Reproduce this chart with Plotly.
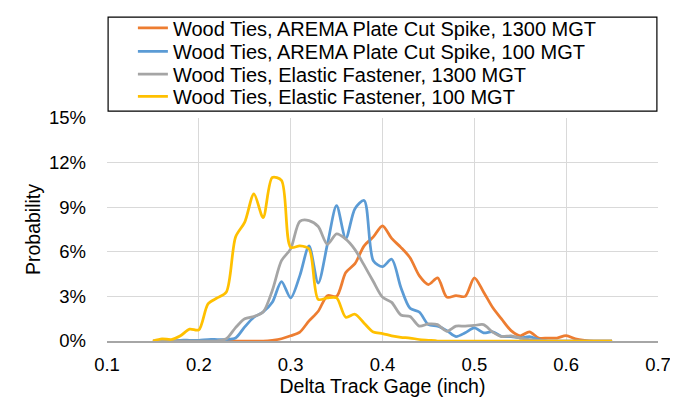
import plotly.graph_objects as go

gage = [0.15, 0.16, 0.17, 0.18, 0.19, 0.20, 0.21, 0.22, 0.23, 0.24,
        0.25, 0.26, 0.27, 0.28, 0.29, 0.30, 0.31, 0.32, 0.33, 0.34,
        0.35, 0.36, 0.37, 0.38, 0.39, 0.40, 0.41, 0.42, 0.43, 0.44,
        0.45, 0.46, 0.47, 0.48, 0.49, 0.50, 0.51, 0.52, 0.53, 0.54,
        0.55, 0.56, 0.57, 0.58, 0.59, 0.60, 0.61, 0.62, 0.63, 0.64, 0.65]

# probabilities in percent
arema_1300 = [0, 0, 0, 0, 0, 0, 0, 0, 0, 0,
              0, 0, 0, 0.05, 0.15, 0.35, 0.6, 1.35, 2.0, 3.05,
              3.0, 4.6, 5.2, 6.4, 7.0, 7.75, 6.9, 6.3, 5.6, 4.4,
              3.8, 4.25, 2.95, 3.05, 3.0, 4.25, 3.3, 2.25, 1.45, 0.7,
              0.35, 0.62, 0.2, 0.2, 0.2, 0.36, 0.15, 0.05, 0, 0, 0]

arema_100 = [0, 0, 0, 0.05, 0.05, 0.05, 0.1, 0.1, 0.1, 0.2,
             0.95, 1.6, 1.95, 2.6, 4.0, 2.9, 4.4, 6.4, 3.9, 6.5,
             9.1, 6.9, 8.9, 9.45, 5.4, 5.0, 5.5, 3.6, 2.2, 1.95,
             1.1, 1.0, 0.7, 0.3, 0.55, 0.88, 0.55, 0.62, 0.3, 0.3,
             0.2, 0.3, 0.1, 0, 0, 0, 0, 0, 0, 0, 0]

elastic_1300 = [0, 0, 0, 0, 0, 0, 0, 0, 0.15, 0.9,
                1.5, 1.65, 1.95, 3.4, 5.4, 6.2, 8.05, 8.1, 7.7, 6.5,
                7.2, 6.85, 6.15, 5.1, 4.0, 2.95, 2.6, 1.75, 1.65, 1.0,
                1.15, 1.1, 0.65, 1.0, 1.0, 1.05, 1.1, 0.6, 0.3, 0.35,
                0.2, 0.1, 0.05, 0, 0, 0, 0, 0, 0, 0, 0]

elastic_100 = [0, 0.15, 0.1, 0.35, 0.8, 0.75, 2.5, 2.9, 3.3, 7.0,
               8.0, 9.9, 8.3, 11.0, 10.8, 6.3, 6.4, 6.2, 2.8, 2.9,
               2.9, 1.6, 1.8, 1.2, 0.6, 0.5, 0.35, 0.25, 0.2, 0.1,
               0.05, 0, 0, 0, 0, 0, 0, 0, 0, 0,
               0, 0, 0, 0, 0, 0, 0, 0, 0, 0, 0]

series_names = ["Wood Ties, AREMA Plate Cut Spike, 1300 MGT",
                "Wood Ties, AREMA Plate Cut Spike, 100 MGT",
                "Wood Ties, Elastic Fastener, 1300 MGT",
                "Wood Ties, Elastic Fastener, 100 MGT"]
series_values = [arema_1300, arema_100, elastic_1300, elastic_100]
colors = ["#ED7D31", "#5B9BD5", "#A5A5A5", "#FFC000"]

y_ticks = [0, 0.03, 0.06, 0.09, 0.12, 0.15]
x_ticks = [0.1, 0.2, 0.3, 0.4, 0.5, 0.6, 0.7]

FONT = "Liberation Sans, Arial, sans-serif"
LEG_FONT = dict(family=FONT, size=20, color="#000000")

fig = go.Figure()
legend_ids = ["legend", "legend2", "legend3", "legend4"]
for name, vals, col, lid in zip(series_names, series_values, colors, legend_ids):
    fig.add_trace(go.Scatter(
        x=gage, y=[v / 100 for v in vals], name=name, mode="lines",
        line=dict(color=col, width=2.75, shape="spline", smoothing=0.8),
        legend=lid,
    ))

# one legend per row so that row spacing can follow the original
row_y = [1.4036, 1.2991, 1.1973, 1.0973]
legend_layout = {}
for lid, ry in zip(legend_ids, row_y):
    legend_layout[lid] = dict(x=0.047, y=ry, xanchor="left", yanchor="middle",
                              bgcolor="rgba(0,0,0,0)", borderwidth=0,
                              font=LEG_FONT, itemwidth=30)

fig.update_layout(
    width=678, height=398,
    margin=dict(l=99, r=28, t=110, b=65, autoexpand=False),
    paper_bgcolor="white", plot_bgcolor="white",
    font=dict(family=FONT, color="#000000", size=19),
    showlegend=True,
    xaxis=dict(range=[0.1, 0.7], tickvals=x_ticks, tickformat=".1f",
               showgrid=True, gridcolor="#D9D9D9", gridwidth=1,
               showline=True, linecolor="#A6A6A6", linewidth=1.5,
               zeroline=False, ticks="", tickfont=dict(size=18.5),
               ticklabelstandoff=6, automargin=False,
               title=dict(text="Delta Track Gage (inch)", font=dict(size=19.5), standoff=1)),
    yaxis=dict(range=[0, 0.15], tickvals=y_ticks, tickformat=".0%",
               showgrid=True, gridcolor="#D9D9D9", gridwidth=1,
               showline=False, zeroline=False, ticks="", automargin=False,
               tickfont=dict(size=18.5), ticklabelstandoff=20,
               title=dict(text="Probability", font=dict(size=19.5), standoff=3)),
    yaxis2=dict(range=[0, 0.15], overlaying="y", side="right",
                showline=True, linecolor="#A6A6A6", linewidth=1.5, automargin=False,
                showgrid=False, zeroline=False, showticklabels=False, ticks=""),
    shapes=[dict(type="rect", xref="paper", yref="paper",
                 x0=0.002, x1=0.998, y0=1.031, y1=1.452,
                 line=dict(color="#000000", width=1.2), fillcolor="rgba(0,0,0,0)")],
    **legend_layout,
)

fig.write_html("out.html")
